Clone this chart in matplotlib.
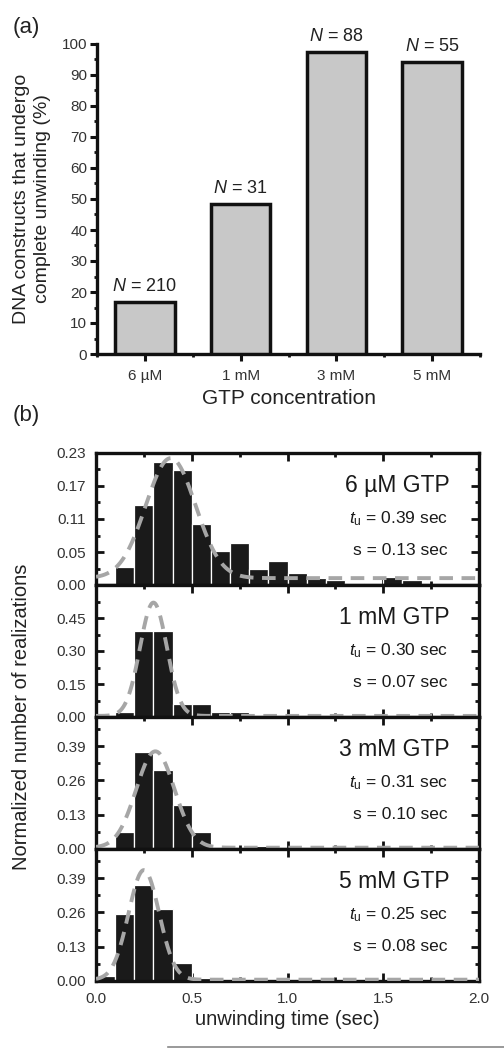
import numpy as np
import matplotlib
matplotlib.use("Agg")
import matplotlib.pyplot as plt
from matplotlib.lines import Line2D
from matplotlib.ticker import FixedLocator, MultipleLocator

plt.rcParams['font.family'] = ['Liberation Sans', 'DejaVu Sans']
plt.rcParams['mathtext.fontset'] = 'custom'
plt.rcParams['mathtext.rm'] = 'Liberation Sans'
plt.rcParams['mathtext.it'] = 'Liberation Sans:italic'

# ---------------- data: panel (a) ----------------
conc_labels = ["6 \u00b5M", "1 mM", "3 mM", "5 mM"]
pct_unwound = [16.8, 48.4, 97.4, 94.2]
n_counts = [210, 31, 88, 55]

# ---------------- data: panel (b) ----------------
bin_left = [0.0, 0.1, 0.2, 0.3, 0.4, 0.5, 0.6, 0.7, 0.8, 0.9,
            1.0, 1.1, 1.2, 1.3, 1.4, 1.5, 1.6]
hist_6uM = [0.0, 0.032, 0.139, 0.214, 0.200, 0.107, 0.060, 0.074, 0.028, 0.041,
            0.021, 0.012, 0.009, 0.004, 0.0, 0.014, 0.009]
hist_1mM = [0.0, 0.025, 0.39, 0.39, 0.058, 0.058, 0.025, 0.025, 0.0, 0.0,
            0.0, 0.0, 0.0, 0.0, 0.0, 0.0, 0.0]
hist_3mM = [0.0, 0.065, 0.368, 0.298, 0.165, 0.065, 0.0, 0.0, 0.01, 0.0,
            0.0, 0.0, 0.0, 0.0, 0.0, 0.0, 0.0]
hist_5mM = [0.02, 0.252, 0.363, 0.271, 0.069, 0.01, 0.0, 0.0, 0.0, 0.0,
            0.0, 0.0, 0.0, 0.0, 0.0, 0.0, 0.0]
panel_titles = ["6 \u00b5M GTP", "1 mM GTP", "3 mM GTP", "5 mM GTP"]
fit_tu = [0.39, 0.30, 0.31, 0.25]
fit_s = [0.13, 0.07, 0.10, 0.08]
fit_amp = [0.209, 0.515, 0.365, 0.415]
fit_offset = [0.012, 0.005, 0.005, 0.005]
ylim_top = [0.23, 0.60, 0.50, 0.50]
ytick_step = [0.0575, 0.15, 0.13, 0.13]
ytick_labels = [["0.00", "0.05", "0.11", "0.17", "0.23"],
                ["0.00", "0.15", "0.30", "0.45", ""],
                ["0.00", "0.13", "0.26", "0.39"],
                ["0.00", "0.13", "0.26", "0.39"]]

W, H = 504, 1048
fig = plt.figure(figsize=(W / 100, H / 100), dpi=100)

# ---------------- panel (a) ----------------
axa = fig.add_axes([97 / W, 1 - 354 / H, 383 / W, 310 / H])
xpos = np.arange(1, len(conc_labels) + 1)
axa.bar(xpos, pct_unwound, width=0.62, color="#c8c8c8", edgecolor="#111111",
        linewidth=2.5, zorder=3)
for x, v, n in zip(xpos, pct_unwound, n_counts):
    axa.annotate(r"$N$ = %d" % n, (x, v), xytext=(0, 5), textcoords="offset points",
                 ha="center", va="bottom", fontsize=13, color="#222222")
axa.set_xlim(0.5, 4.5)
axa.set_ylim(0, 100)
axa.set_xticks(xpos)
axa.set_xticklabels(conc_labels)
axa.xaxis.set_minor_locator(FixedLocator([0.5, 1.5, 2.5, 3.5, 4.5]))
axa.set_yticks(np.arange(0, 101, 10))
axa.yaxis.set_minor_locator(MultipleLocator(5))
for s in ["top", "right"]:
    axa.spines[s].set_visible(False)
for s in ["left", "bottom"]:
    axa.spines[s].set_linewidth(2.4)
    axa.spines[s].set_color("#111111")
axa.tick_params(axis="both", which="major", direction="out", length=5, width=2.2,
                labelsize=11, colors="#111111", labelcolor="#333333")
axa.tick_params(axis="y", which="major", pad=2)
axa.tick_params(axis="x", which="major", pad=6)
axa.tick_params(axis="both", which="minor", direction="out", length=2.5, width=2.0,
                colors="#111111")
axa.set_xlabel("GTP concentration", fontsize=15, color="#222222", labelpad=4)
fig.text(32 / W, 1 - 199 / H, "DNA constructs that undergo\ncomplete unwinding (%)",
         rotation=90, ha="center", va="center", fontsize=14, color="#222222",
         linespacing=1.3, multialignment="center")
fig.text(13 / W, 1 - 27 / H, "(a)", ha="left", va="center", fontsize=16, color="#222222")

# ---------------- panel (b) ----------------
hists = [hist_6uM, hist_1mM, hist_3mM, hist_5mM]
xfit = np.linspace(0, 2, 600)
axes_b = []
for i in range(4):
    top_px = 453 + 132 * i
    ax = fig.add_axes([96 / W, 1 - (top_px + 132) / H, 383 / W, 132 / H])
    axes_b.append(ax)
    ax.bar(bin_left, hists[i], width=0.1, align="edge", color="#1a1a1a",
           edgecolor="white", linewidth=0.9, zorder=2)
    yfit = fit_offset[i] + fit_amp[i] * np.exp(-(xfit - fit_tu[i]) ** 2 / (2 * fit_s[i] ** 2))
    ax.plot(xfit, yfit, color="#a6a6a6", lw=2.8, linestyle=(0, (3.5, 2.2)),
            zorder=3, solid_capstyle="butt")
    ax.set_xlim(0, 2)
    ax.set_ylim(0, ylim_top[i])
    nt = len(ytick_labels[i])
    ax.set_yticks([ytick_step[i] * k for k in range(nt)])
    ax.set_yticklabels(ytick_labels[i])
    ax.yaxis.set_minor_locator(MultipleLocator(ytick_step[i] / 2))
    ax.xaxis.set_major_locator(MultipleLocator(0.5))
    ax.xaxis.set_minor_locator(MultipleLocator(0.25))
    for s in ax.spines.values():
        s.set_linewidth(2.4)
        s.set_color("#111111")
    ax.tick_params(axis="both", which="major", direction="in", length=6, width=2.0,
                   top=True, right=True, labelsize=11, colors="#111111",
                   labelcolor="#333333", pad=7)
    ax.tick_params(axis="both", which="minor", direction="in", length=3, width=2.0,
                   top=True, right=True, colors="#111111")
    if i < 3:
        ax.tick_params(axis="x", labelbottom=False)
    ax.text(0.924, 0.75, panel_titles[i], transform=ax.transAxes, ha="right",
            va="center", fontsize=16.5, color="#1a1a1a")
    ax.text(0.919, 0.505, r"$t_{\mathrm{u}}$ = %.2f sec" % fit_tu[i], transform=ax.transAxes,
            ha="right", va="center", fontsize=12.5, color="#1a1a1a")
    ax.text(0.919, 0.26, "s = %.2f sec" % fit_s[i], transform=ax.transAxes,
            ha="right", va="center", fontsize=12.5, color="#1a1a1a")

axes_b[-1].tick_params(axis="x", pad=8)
axes_b[-1].set_xticks([0.0, 0.5, 1.0, 1.5, 2.0])
axes_b[-1].set_xticklabels(["0.0", "0.5", "1.0", "1.5", "2.0"])
axes_b[-1].set_xlabel("unwinding time (sec)", fontsize=14.5, color="#222222", labelpad=3)
fig.text(22 / W, 1 - 717 / H, "Normalized number of realizations", rotation=90,
         ha="center", va="center", fontsize=14.5, color="#222222")
fig.text(13 / W, 1 - 415 / H, "(b)", ha="left", va="center", fontsize=16, color="#222222")

fig.add_artist(Line2D([168 / W, 1.0], [0.7 / H, 0.7 / H], transform=fig.transFigure,
                      color="#888888", lw=1.2))

fig.savefig("out.png", dpi=100)
